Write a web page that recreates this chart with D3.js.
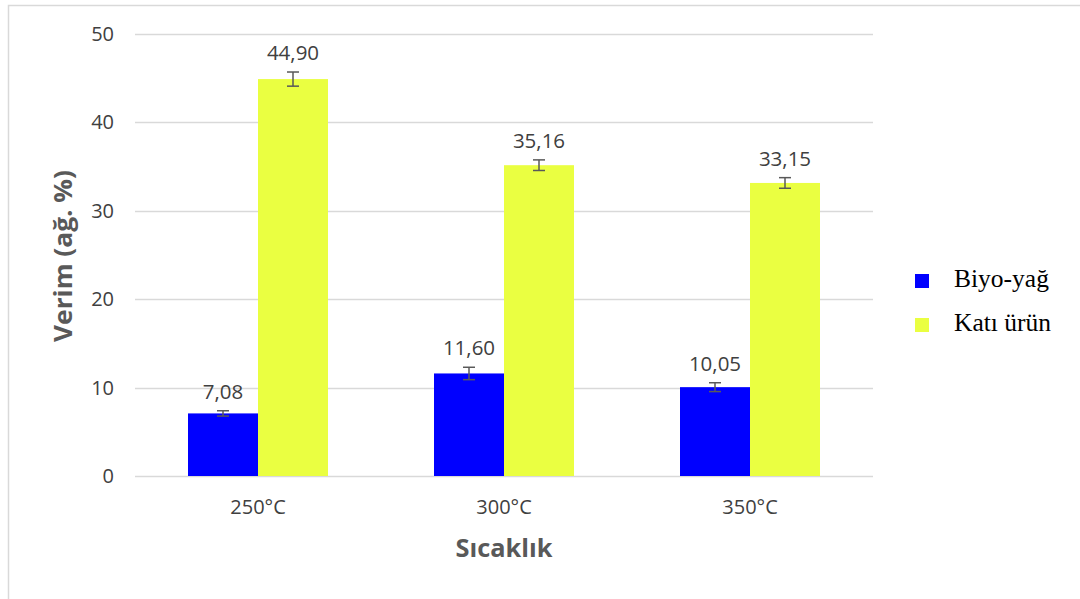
<!DOCTYPE html>
<html><head><meta charset="utf-8">
<script src="https://cdn.jsdelivr.net/npm/d3@7"></script>
<style>body{margin:0;background:#fff}svg{display:block}</style>
</head><body>
<svg id="c" width="1080" height="599"></svg>
<script>
const categories = ["250°C", "300°C", "350°C"];
const seriesNames = ["Biyo-yağ", "Katı ürün"];
const bioOil = [7.08, 11.60, 10.05];
const solid = [44.90, 35.16, 33.15];
const bioOilErr = [0.3, 0.7, 0.5];
const solidErr = [0.8, 0.6, 0.6];
const yTicks = [0, 10, 20, 30, 40, 50];
const colors = ["#0000ff", "#eaff41"];

const svg = d3.select("#c");
svg.append("rect").attr("x", 8.5).attr("y", 5.5).attr("width", 1100).attr("height", 700)
  .attr("fill", "#fff").attr("stroke", "#d9d9d9").attr("stroke-width", 1.5);

const x0 = d3.scaleBand().domain(categories).range([135, 873]).paddingInner(0).paddingOuter(0);
const x1 = d3.scaleBand().domain(seriesNames).range([53, 193]).padding(0);
const y = d3.scaleLinear().domain([0, 50]).range([476, 34]);

const txt = "#404040";
const font = "'Open Sans', sans-serif";

// gridlines
svg.append("g").selectAll("line").data(yTicks).join("line")
  .attr("x1", 135).attr("x2", 873).attr("y1", d => Math.round(y(d)) + 0.5).attr("y2", d => Math.round(y(d)) + 0.5)
  .attr("stroke", "#d9d9d9").attr("stroke-width", 1.5);

// y axis tick labels
const yAxis = d3.axisLeft(y).tickValues(yTicks).tickSize(0).tickPadding(0);
const gy = svg.append("g").attr("transform", "translate(114,0)").call(yAxis);
gy.select(".domain").remove();
gy.selectAll("text").attr("font-family", font).attr("font-size", 20).attr("fill", txt);

// x axis labels
const xAxis = d3.axisBottom(x0).tickSize(0).tickPadding(0);
const gx = svg.append("g").attr("transform", "translate(0,514)").call(xAxis);
gx.select(".domain").remove();
gx.selectAll("text").attr("font-family", font).attr("font-size", 20).attr("fill", txt).attr("dy", 0).attr("y", 0);

const data = categories.map((c, i) => ({c, vals: [
  {s: seriesNames[0], v: bioOil[i], e: bioOilErr[i]},
  {s: seriesNames[1], v: solid[i], e: solidErr[i]}
]}));

const groups = svg.append("g").selectAll("g").data(data).join("g")
  .attr("transform", d => `translate(${x0(d.c)},0)`);

groups.selectAll("rect").data(d => d.vals).join("rect")
  .attr("x", d => x1(d.s)).attr("width", x1.bandwidth())
  .attr("y", d => y(d.v)).attr("height", d => y(0) - y(d.v))
  .attr("fill", (d, i) => colors[i]);

// error bars
const cx = d => x1(d.s) + x1.bandwidth() / 2;
const eb = groups.selectAll("g.eb").data(d => d.vals).join("g").attr("class", "eb");
eb.append("line").attr("x1", cx).attr("x2", cx)
  .attr("y1", d => y(d.v + d.e)).attr("y2", d => y(d.v - d.e)).attr("stroke", "#595959").attr("stroke-width", 1.5);
eb.append("line").attr("x1", d => cx(d) - 6).attr("x2", d => cx(d) + 6)
  .attr("y1", d => y(d.v + d.e)).attr("y2", d => y(d.v + d.e)).attr("stroke", "#595959").attr("stroke-width", 1.5);
eb.append("line").attr("x1", d => cx(d) - 6).attr("x2", d => cx(d) + 6)
  .attr("y1", d => y(d.v - d.e)).attr("y2", d => y(d.v - d.e)).attr("stroke", "#595959").attr("stroke-width", 1.5);

// value labels
groups.selectAll("text.val").data(d => d.vals).join("text").attr("class", "val")
  .attr("x", cx).attr("y", d => y(d.v + d.e) - 12)
  .attr("text-anchor", "middle").attr("font-family", font).attr("font-size", 20.5).attr("fill", txt)
  .text(d => d.v.toFixed(2).replace(".", ","));

// axis titles
svg.append("text").attr("transform", "translate(72,256) rotate(-90)").attr("text-anchor", "middle")
  .attr("font-family", font).attr("font-weight", "bold").attr("font-size", 25).attr("fill", "#595959")
  .attr("textLength", 172).attr("lengthAdjust", "spacingAndGlyphs").text("Verim (ağ. %)");
svg.append("text").attr("x", 504).attr("y", 557).attr("text-anchor", "middle")
  .attr("font-family", font).attr("font-weight", "bold").attr("font-size", 25).attr("fill", "#595959")
  .attr("textLength", 97).attr("lengthAdjust", "spacingAndGlyphs").text("Sıcaklık");

// legend
const lg = svg.append("g").selectAll("g").data(seriesNames).join("g")
  .attr("transform", (d, i) => `translate(915,${274 + i * 44})`);
lg.append("rect").attr("width", 14).attr("height", 14).attr("fill", (d, i) => colors[i]);
lg.append("text").attr("x", 39).attr("y", 13).attr("font-family", "'Liberation Serif', 'Times New Roman', serif")
  .attr("font-size", 25.5).attr("fill", "#000").text(d => d);
</script>
</body></html>
